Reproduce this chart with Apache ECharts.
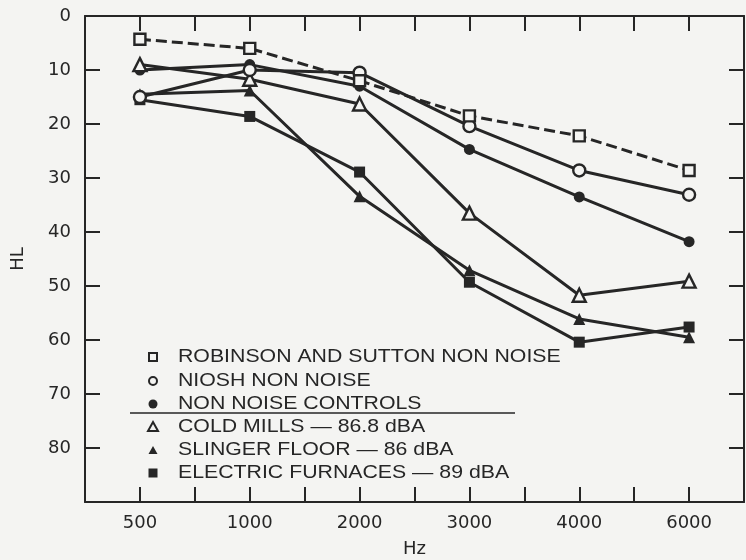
<!DOCTYPE html>
<html><head><meta charset="utf-8">
<script src="https://cdn.jsdelivr.net/npm/echarts@6/dist/echarts.min.js"></script>
<style>html,body{margin:0;padding:0;background:#f4f4f2}#c{width:746px;height:560px}</style>
</head><body><div id="c"></div>
<script>
// ---- data ----
const freqLabels = ['500', '1000', '2000', '3000', '4000', '6000'];
const yTickLabels = ['0', '10', '20', '30', '40', '50', '60', '70', '80'];
const robinson  = [4.3, 6.0, 12.0, 18.5, 22.2, 28.6];
const niosh     = [15.0, 10.0, 10.5, 20.4, 28.6, 33.1];
const nonNoise  = [10.0, 9.0, 13.0, 24.7, 33.5, 41.8];
const coldMills = [9.0, 11.7, 16.3, 36.5, 51.7, 49.1];
const slinger   = [14.5, 13.8, 33.4, 47.1, 56.1, 59.5];
const furnaces  = [15.5, 18.6, 28.9, 49.3, 60.4, 57.6];
const legendLabels = [
  'ROBINSON AND SUTTON NON NOISE',
  'NIOSH NON NOISE',
  'NON NOISE CONTROLS',
  'COLD MILLS \u2014 86.8 dBA',
  'SLINGER FLOOR \u2014 86 dBA',
  'ELECTRIC FURNACES \u2014 89 dBA'
];

// ---- styling ----
const INK = '#262626';
const BG = '#f4f4f2';
const chart = echarts.init(document.getElementById('c'), null, {renderer: 'canvas'});

const xPos = freqLabels.map((_, i) => i * 2);
const toData = arr => arr.map((v, i) => [xPos[i], v]);

function axisCommon() {
  return {
    axisLine: {show: true, onZero: false, lineStyle: {color: INK, width: 2}},
    axisTick: {show: true, inside: true, length: 15, lineStyle: {color: INK, width: 2}},
    splitLine: {show: false},
    minorTick: {show: false}
  };
}
const xCommon = Object.assign(axisCommon(), {type: 'value', min: -1, max: 11, interval: 1});
const yCommon = Object.assign(axisCommon(), {type: 'value', min: 0, max: 90, interval: 10, inverse: true});

const labelFont = {color: INK, fontFamily: 'DejaVu Sans', fontSize: 18};

function mk(name, values, symbol, size, open, dashed) {
  return {
    type: 'line', name: name, data: toData(values),
    symbol: symbol, symbolSize: size, showSymbol: true,
    lineStyle: {color: INK, width: 3, type: dashed ? [11, 5] : 'solid'},
    itemStyle: open ? {color: BG, borderColor: INK, borderWidth: 2.4} : {color: INK, borderColor: INK, borderWidth: 0},
    emphasis: {disabled: true},
    animation: false,
    z: open ? 3 : 2
  };
}

// legend drawn as graphic
const rowY = [357, 381, 404, 427, 450, 473];
const gx = 153;
const legendShapes = [
  {type: 'rect', shape: {x: gx - 4, y: rowY[0] - 4, width: 8, height: 8}, style: {fill: BG, stroke: INK, lineWidth: 2}},
  {type: 'circle', shape: {cx: gx, cy: rowY[1], r: 4}, style: {fill: BG, stroke: INK, lineWidth: 2}},
  {type: 'circle', shape: {cx: gx, cy: rowY[2], r: 4.5}, style: {fill: INK}},
  {type: 'polygon', shape: {points: [[gx, rowY[3] - 5], [gx + 5, rowY[3] + 4], [gx - 5, rowY[3] + 4]]}, style: {fill: BG, stroke: INK, lineWidth: 2}},
  {type: 'polygon', shape: {points: [[gx, rowY[4] - 4], [gx + 4.5, rowY[4] + 4], [gx - 4.5, rowY[4] + 4]]}, style: {fill: INK}},
  {type: 'rect', shape: {x: gx - 4.5, y: rowY[5] - 4.5, width: 9, height: 9}, style: {fill: INK}}
];
const legendTexts = legendLabels.map((t, i) => ({
  type: 'text', x: 178, y: rowY[i], scaleX: 1.12, scaleY: 1,
  style: {text: t, fill: INK, font: '19px "Liberation Sans", Arial, sans-serif', verticalAlign: 'middle'}
}));
const sep = {type: 'line', shape: {x1: 130, y1: 413, x2: 515, y2: 413}, style: {stroke: INK, lineWidth: 1.5}};

chart.setOption({
  backgroundColor: BG,
  animation: false,
  grid: {left: 85, right: 2, top: 16, bottom: 58, containLabel: false, outerBoundsMode: 'none'},
  xAxis: [
    Object.assign({}, xCommon, {
      position: 'bottom',
      name: 'Hz', nameLocation: 'middle', nameGap: 38,
      nameTextStyle: labelFont,
      axisLabel: Object.assign({}, labelFont, {margin: 12, showMinLabel: true, showMaxLabel: true,
        formatter: v => (v >= 0 && v % 2 === 0 && v / 2 < freqLabels.length) ? freqLabels[v / 2] : ''})
    }),
    Object.assign({}, xCommon, {position: 'top', axisLabel: {show: false}})
  ],
  yAxis: [
    Object.assign({}, yCommon, {
      position: 'left',
      name: 'HL', nameLocation: 'middle', nameGap: 58, nameRotate: 90,
      nameTextStyle: labelFont,
      axisLabel: Object.assign({}, labelFont, {margin: 14, showMinLabel: true, showMaxLabel: true,
        formatter: v => (v / 10 < yTickLabels.length) ? yTickLabels[v / 10] : ''})
    }),
    Object.assign({}, yCommon, {position: 'right', axisLabel: {show: false}})
  ],
  series: [
    mk(legendLabels[5], furnaces, 'rect', 11, false, false),
    mk(legendLabels[4], slinger, 'triangle', 12, false, false),
    mk(legendLabels[2], nonNoise, 'circle', 11, false, false),
    mk(legendLabels[3], coldMills, 'triangle', 13, true, false),
    mk(legendLabels[1], niosh, 'circle', 12, true, false),
    mk(legendLabels[0], robinson, 'rect', 11, true, true)
  ],
  graphic: {elements: legendShapes.concat(legendTexts, [sep])}
});
</script></body></html>
